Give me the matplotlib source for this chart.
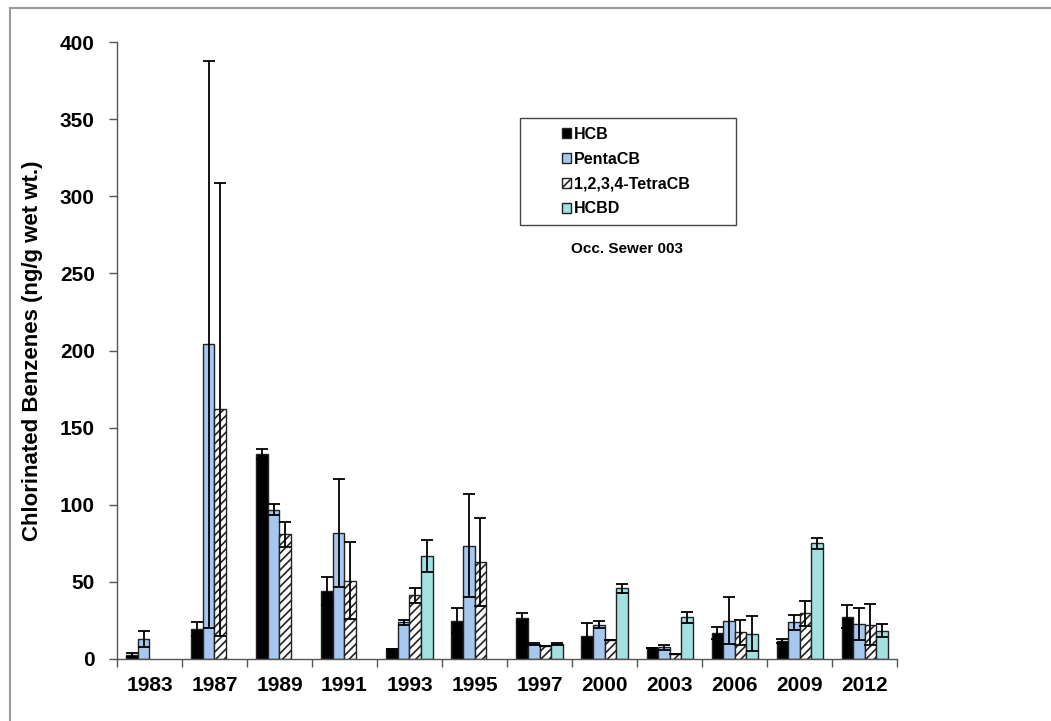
import numpy as np
import matplotlib.pyplot as plt
from matplotlib.patches import Rectangle, Patch
from matplotlib.lines import Line2D

plt.rcParams['font.family'] = ['Liberation Sans', 'DejaVu Sans']
plt.rcParams['font.weight'] = 'bold'
plt.rcParams['hatch.linewidth'] = 1.2

years = ['1983', '1987', '1989', '1991', '1993', '1995', '1997',
         '2000', '2003', '2006', '2009', '2012']
nan = np.nan

# mean values (ng/g wet wt.)
hcb = [2.6, 19.4, 132.9, 44.1, 6.7, 24.8, 26.8, 15.1, 6.9, 16.6, 11.7, 27.4]
penta = [12.8, 204, 96.8, 81.9, 23.8, 73.5, 9.7, 22.2, 7.6, 24.8, 23.8, 22.7]
tetra = [nan, 161.9, 80.8, 50.8, 41.3, 62.9, 8.6, 12.3, 3.5, 17.3, 29.6, 22.2]
hcbd = [nan, nan, nan, nan, 66.8, nan, 9.7, 45.8, 27.0, 16.4, 75.0, 18.3]

# error bar half-widths
hcb_err = [1.1, 4.6, 3.5, 8.9, 0, 8.0, 2.8, 8.2, 0, 3.9, 1.3, 7.4]
penta_err = [5.2, 184, 3.5, 35, 1.7, 33.5, 0.9, 2.3, 1.7, 15.3, 4.7, 10.6]
tetra_err = [nan, 147, 7.9, 24.8, 4.9, 28.5, 0, 0, 0, 8.0, 8.2, 13.3]
hcbd_err = [nan, nan, nan, nan, 10.2, nan, 0.5, 2.8, 3.4, 11.3, 3.6, 4.3]

x = np.arange(len(years))
w = 0.177

fig = plt.figure(figsize=(10.51, 7.21), dpi=100)
ax = fig.add_axes([0.1113, 0.086, 0.7422, 0.8557])

ekw = dict(ecolor='black', elinewidth=1.3, capsize=4, capthick=1.3)
ax.bar(x - 1.5 * w, hcb, w, yerr=hcb_err, color='black', edgecolor='#222222',
       linewidth=1, error_kw=ekw, label='HCB')
ax.bar(x - 0.5 * w, penta, w, yerr=penta_err, color='#A6C8EE', edgecolor='#222222',
       linewidth=1, error_kw=ekw, label='PentaCB')
ax.bar(x + 0.5 * w, tetra, w, yerr=tetra_err, color='white', edgecolor='#222222',
       hatch='////', linewidth=1, error_kw=ekw, label='1,2,3,4-TetraCB')
ax.bar(x + 1.5 * w, hcbd, w, yerr=hcbd_err, color='#A3E0E0', edgecolor='#222222',
       linewidth=1, error_kw=ekw, label='HCBD')

ax.set_xlim(-0.5, len(years) - 0.5)
ax.set_ylim(0, 400)
ax.set_yticks(np.arange(0, 401, 50))
ax.set_xticks(x)
ax.set_xticklabels(years)
ax.set_xticks(np.arange(-0.5, len(years), 1), minor=True)
ax.tick_params(axis='x', which='major', length=0, pad=12, labelsize=15)
ax.tick_params(axis='x', which='minor', length=6, width=1, color='#555555')
ax.tick_params(axis='y', length=6, width=1, color='#555555', pad=10, labelsize=15)
for lab in ax.get_xticklabels() + ax.get_yticklabels():
    lab.set_fontweight('bold')

for s in ['top', 'right']:
    ax.spines[s].set_visible(False)
for s in ['left', 'bottom']:
    ax.spines[s].set_color('#555555')
    ax.spines[s].set_linewidth(1)

ax.set_ylabel('Chlorinated Benzenes (ng/g wet wt.)', fontsize=16, fontweight='bold',
              labelpad=12)

# legend in a plain box
ax.add_patch(Rectangle((0.517, 0.703), 0.276, 0.174, transform=ax.transAxes,
                       fill=False, edgecolor='#444444', linewidth=1, zorder=5))
handles = [Patch(facecolor='black', edgecolor='#222222'),
           Patch(facecolor='#A6C8EE', edgecolor='#222222'),
           Patch(facecolor='white', edgecolor='#222222', hatch='////'),
           Patch(facecolor='#A3E0E0', edgecolor='#222222')]
labels = ['HCB', 'PentaCB', '1,2,3,4-TetraCB', 'HCBD']
leg = ax.legend(handles, labels, loc='upper left', bbox_to_anchor=(0.562, 0.873),
                frameon=False, prop={'weight': 'bold', 'size': 11.5},
                handlelength=0.6, handleheight=0.6, handletextpad=0.15,
                labelspacing=0.62, borderaxespad=0)
ax.text(0.654, 0.665, 'Occ. Sewer 003', transform=ax.transAxes, ha='center',
        va='center', fontsize=11, fontweight='bold')

# outer frame lines (top and left)
fig.add_artist(Line2D([0.0095, 1], [0.989, 0.989], color='#999999', lw=1.5))
fig.add_artist(Line2D([0.0095, 0.0095], [0, 0.989], color='#999999', lw=1.5))

fig.savefig('out.png', dpi=100)
